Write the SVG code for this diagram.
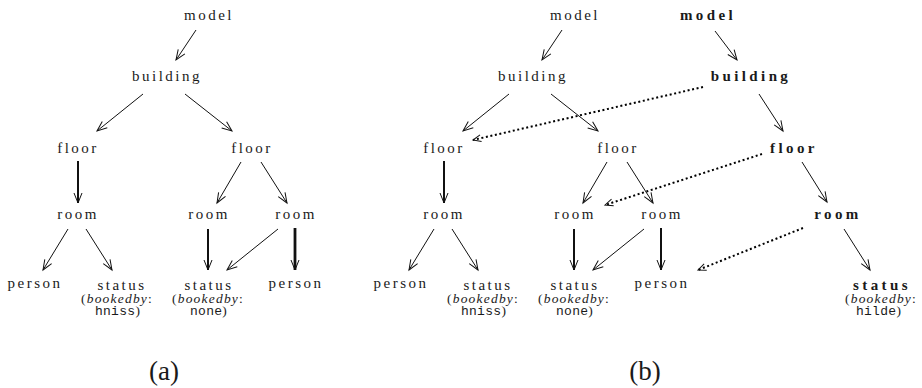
<svg xmlns="http://www.w3.org/2000/svg" width="922" height="388" viewBox="0 0 922 388" font-family="Liberation Serif, DejaVu Serif, serif">
<style>
.t{font-size:15px;letter-spacing:2.5px;text-anchor:middle;fill:#1a1a1a}
.b{font-weight:bold;letter-spacing:3.4px}
.s{font-size:13.5px;letter-spacing:1.2px}
.i{font-style:italic}
.tt{font-size:13px;letter-spacing:0.3px}
.cap{font-size:27px;letter-spacing:0}
.e{stroke:#111;stroke-width:1;fill:none;marker-end:url(#ah)}
.k{stroke-width:2}
.kk{stroke-width:2.8}
.d{stroke:#000;stroke-width:2;fill:none;stroke-dasharray:2 2.6;marker-end:url(#ahd)}
</style>
<defs>
<marker id="ah" markerUnits="userSpaceOnUse" markerWidth="12" markerHeight="12" viewBox="-11 -6 12 12" refX="0" refY="0" orient="auto" overflow="visible">
<path d="M-10,-4 L0,0 L-10,4" fill="none" stroke="#111" stroke-width="1" stroke-dasharray="none"/>
</marker>
<marker id="ahd" markerUnits="userSpaceOnUse" markerWidth="12" markerHeight="12" viewBox="-11 -6 12 12" refX="0" refY="0" orient="auto" overflow="visible">
<path d="M-8,-3.5 L0,0 L-8,3.5" fill="none" stroke="#111" stroke-width="1" stroke-dasharray="none"/>
</marker>
</defs>

<g id="connectors">
<line class="e" x1="196" y1="30" x2="176" y2="60"/>
<line class="e" x1="143" y1="94" x2="97" y2="131"/>
<line class="e" x1="185" y1="94" x2="232" y2="131"/>
<line class="e k" x1="78" y1="161" x2="78" y2="203"/>
<line class="e" x1="241" y1="162" x2="217" y2="203"/>
<line class="e" x1="261" y1="162" x2="287" y2="203"/>
<line class="e" x1="68" y1="229" x2="43" y2="270"/>
<line class="e" x1="86" y1="229" x2="112" y2="270"/>
<line class="e k" x1="208" y1="229" x2="208" y2="270"/>
<line class="e" x1="278" y1="229" x2="227" y2="270"/>
<line class="e kk" x1="295" y1="228" x2="295" y2="270"/>
<line class="e" x1="562" y1="30" x2="542" y2="60"/>
<line class="e" x1="509" y1="94" x2="463" y2="131"/>
<line class="e" x1="551" y1="94" x2="598" y2="131"/>
<line class="e k" x1="444" y1="161" x2="444" y2="203"/>
<line class="e" x1="607" y1="162" x2="583" y2="203"/>
<line class="e" x1="627" y1="162" x2="653" y2="203"/>
<line class="e" x1="434" y1="229" x2="409" y2="270"/>
<line class="e" x1="452" y1="229" x2="478" y2="270"/>
<line class="e k" x1="574" y1="229" x2="574" y2="270"/>
<line class="e" x1="644" y1="229" x2="593" y2="270"/>
<line class="e k" x1="661" y1="228" x2="661" y2="270"/>
<line class="e" x1="715" y1="31" x2="737" y2="60"/>
<line class="e" x1="759" y1="94" x2="783" y2="131"/>
<line class="e" x1="802" y1="162" x2="827" y2="202"/>
<line class="e" x1="844" y1="229" x2="870" y2="270"/>
<line class="d" x1="703" y1="87" x2="473" y2="140"/>
<line class="d" x1="762" y1="154" x2="605" y2="205"/>
<line class="d" x1="803" y1="228" x2="698" y2="270"/>
</g>

<g id="a-model"><text class="t" x="209" y="20">model</text></g>
<g id="a-building"><text class="t" x="167" y="81">building</text></g>
<g id="a-floor1"><text class="t" x="78" y="152.5">floor</text></g>
<g id="a-floor2"><text class="t" x="252" y="152.5">floor</text></g>
<g id="a-room1"><text class="t" x="78" y="218.5">room</text></g>
<g id="a-room2"><text class="t" x="209" y="218.5">room</text></g>
<g id="a-room3"><text class="t" x="296" y="218.5">room</text></g>
<g id="a-person1"><text class="t" x="35" y="287.5">person</text></g>
<g id="a-status1">
<text class="t" x="122" y="290">status</text>
<text class="t s" x="117" y="302.5">(<tspan class="i">bookedby</tspan>:</text>
<text class="t s" x="118" y="315"><tspan class="tt" font-family="Liberation Mono, DejaVu Sans Mono, monospace">hniss</tspan>)</text>
</g>
<g id="a-status2">
<text class="t" x="209" y="290">status</text>
<text class="t s" x="208" y="302.5">(<tspan class="i">bookedby</tspan>:</text>
<text class="t s" x="209" y="315"><tspan class="tt" font-family="Liberation Mono, DejaVu Sans Mono, monospace">none</tspan>)</text>
</g>
<g id="a-person2"><text class="t" x="296" y="287.5">person</text></g>
<g id="a-caption"><text class="t cap" x="164" y="380">(a)</text></g>

<g id="b-model"><text class="t" x="575" y="20">model</text></g>
<g id="b-building"><text class="t" x="533" y="81">building</text></g>
<g id="b-floor1"><text class="t" x="444" y="152.5">floor</text></g>
<g id="b-floor2"><text class="t" x="618" y="152.5">floor</text></g>
<g id="b-room1"><text class="t" x="444" y="218.5">room</text></g>
<g id="b-room2"><text class="t" x="575" y="218.5">room</text></g>
<g id="b-room3"><text class="t" x="662" y="218.5">room</text></g>
<g id="b-person1"><text class="t" x="401" y="287.5">person</text></g>
<g id="b-status1">
<text class="t" x="488" y="290">status</text>
<text class="t s" x="483" y="302.5">(<tspan class="i">bookedby</tspan>:</text>
<text class="t s" x="484" y="315"><tspan class="tt" font-family="Liberation Mono, DejaVu Sans Mono, monospace">hniss</tspan>)</text>
</g>
<g id="b-status2">
<text class="t" x="575" y="290">status</text>
<text class="t s" x="574" y="302.5">(<tspan class="i">bookedby</tspan>:</text>
<text class="t s" x="575" y="315"><tspan class="tt" font-family="Liberation Mono, DejaVu Sans Mono, monospace">none</tspan>)</text>
</g>
<g id="b-person2"><text class="t" x="662" y="287.5">person</text></g>

<g id="n-model"><text class="t b" x="708" y="20">model</text></g>
<g id="n-building"><text class="t b" x="751" y="81">building</text></g>
<g id="n-floor"><text class="t b" x="794" y="152.5">floor</text></g>
<g id="n-room"><text class="t b" x="838" y="218.5">room</text></g>
<g id="n-status">
<text class="t b" x="882" y="290">status</text>
<text class="t s" x="881" y="302.5">(<tspan class="i">bookedby</tspan>:</text>
<text class="t s" x="879" y="315"><tspan class="tt" font-family="Liberation Mono, DejaVu Sans Mono, monospace">hilde</tspan>)</text>
</g>
<g id="b-caption"><text class="t cap" x="645" y="380">(b)</text></g>
</svg>
